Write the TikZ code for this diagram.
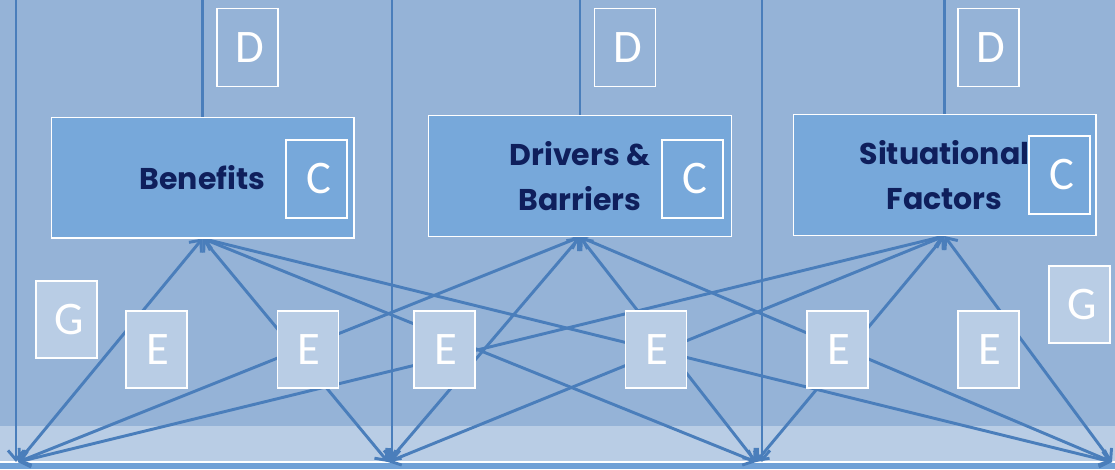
\documentclass[tikz,border=0pt]{standalone}
\usepackage{fontspec}
\setmainfont{Carlito}
\newfontfamily\headfont{Poppins}
\usetikzlibrary{arrows.meta,positioning}

\definecolor{bgblue}{HTML}{95B3D7}
\definecolor{boxblue}{HTML}{77A8DA}
\definecolor{paleblue}{HTML}{B9CDE5}
\definecolor{linkblue}{HTML}{4A7EBB}
\definecolor{barblue}{HTML}{6FA0D6}
\definecolor{navy}{HTML}{0F1F5C}

\pgfdeclarelayer{bg}
\pgfdeclarelayer{links}
\pgfsetlayers{bg,links,main}

\begin{document}
\begin{tikzpicture}[
    x=0.75pt, y=-0.75pt,
    factor/.style={rectangle, draw=white, line width=1pt, fill=boxblue, minimum width=227pt, minimum height=90.5pt, inner sep=0pt, align=center, text=navy, font=\headfont\bfseries\fontsize{22.5}{33.75}\selectfont},
    tag/.style={rectangle, draw=white, line width=1pt, minimum width=45.75pt, minimum height=58.5pt, inner sep=0pt, text=white, font=\fontsize{35}{40}\selectfont},
    ctag/.style={tag, fill=boxblue},
    dtag/.style={tag, fill=bgblue},
    etag/.style={tag, fill=paleblue, minimum height=57.75pt},
    feed/.style={draw=linkblue, line width=2.2pt},
    link/.style={feed, {Straight Barb[length=7pt,width=12pt]}-{Straight Barb[length=7pt,width=12pt]}},
    drop/.style={feed, -{Straight Barb[length=7pt,width=12pt]}}
]
\useasboundingbox (0,0) rectangle (1115,469);

% Backdrop and bottom band
\begin{pgfonlayer}{bg}
\fill[bgblue] (0,0) rectangle (1115,469);
\fill[paleblue] (0,426) rectangle (1115,462);
\fill[barblue] (0,462.5) rectangle (1115,469);
\draw[white, line width=1pt] (0,462) -- (1115,462);
\end{pgfonlayer}

% Factor boxes
\node[factor] (benefits) at (202.5,177.5) {Benefits};
\node[factor] (drivers) at (580,176) {Drivers \&\\Barriers};
\node[factor] (situation) at (944.5,175) {Situational\\Factors};

% C tags
\node[ctag] (c1) at (316.5,179) {\hspace{3pt}C};
\node[ctag] (c2) at (692.5,179) {\hspace{3pt}C};
\node[ctag] (c3) at (1059.5,175) {\hspace{3pt}C};

% D tags
\node[dtag] (d1) at (247.5,47.5) {\hspace{4pt}D};
\node[dtag] (d2) at (625,47.5) {\hspace{4pt}D};
\node[dtag] (d3) at (988.5,47.5) {\hspace{4pt}D};

% E tags
\node[etag] (e1) at (156.5,349.5) {\hspace{2pt}E};
\node[etag] (e2) at (308,349.5) {\hspace{2pt}E};
\node[etag] (e3) at (444.5,349.5) {\hspace{2pt}E};
\node[etag] (e4) at (656,349.5) {\hspace{2pt}E};
\node[etag] (e5) at (837.5,349.5) {\hspace{2pt}E};
\node[etag] (e6) at (988.5,349.5) {\hspace{2pt}E};

% G tags
\node[etag] (g1) at (66.5,319.5) {\hspace{4pt}G};
\node[etag] (g2) at (1079.5,304.5) {\hspace{4pt}G};

% Free ends
\coordinate (roof) at (0,0);
\coordinate (b1) at (18,462);
\coordinate (b2) at (388,462);
\coordinate (b3) at (756,462);
\coordinate (b4) at (1112,462);
\coordinate (drop1) at (16,0);
\coordinate (drop2) at (392,0);
\coordinate (drop3) at (762,0);

\begin{pgfonlayer}{links}
% Feeds from above
\draw[feed] (benefits.north) -- (benefits.north |- roof);
\draw[feed] (drivers.north) -- (drivers.north |- roof);
\draw[feed] (situation.north) -- (situation.north |- roof);

\draw[drop] (drop1) -- (drop1 |- b1);
\draw[drop] (drop2) -- (drop2 |- b2);
\draw[drop] (drop3) -- (drop3 |- b3);

% Cross links
\draw[link] (b1) -- (benefits.south);
\draw[link] (b2) -- (benefits.south);
\draw[link] (b3) -- (benefits.south);
\draw[link] (b4) -- (benefits.south);
\draw[link] (b1) -- (drivers.south);
\draw[link] (b2) -- (drivers.south);
\draw[link] (b3) -- (drivers.south);
\draw[link] (b4) -- (drivers.south);
\draw[link] (b1) -- (situation.south);
\draw[link] (b2) -- (situation.south);
\draw[link] (b3) -- (situation.south);
\draw[link] (b4) -- (situation.south);
\end{pgfonlayer}

\end{tikzpicture}
\end{document}
